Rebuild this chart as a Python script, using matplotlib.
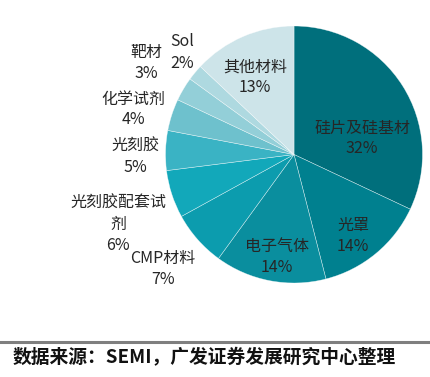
import matplotlib
matplotlib.use('Agg')
import matplotlib.pyplot as plt
from matplotlib.lines import Line2D

plt.rcParams['font.family'] = ['Noto Sans CJK SC', 'DejaVu Sans']

# Datos del gráfico (sentido horario desde arriba)
categorias = ['硅片及硅基材', '光罩', '电子气体', 'CMP材料', '光刻胶配套试\n剂',
              '光刻胶', '化学试剂', '靶材', 'Sol', '其他材料']
porcentajes = [32, 14, 14, 7, 6, 5, 4, 3, 2, 13]
colores = ['#006F7C', '#00808F', '#0A8E9E', '#0C9CAE', '#12A8BA',
           '#3AB3C4', '#6EC1CD', '#93CFD8', '#AED9E0', '#CDE4E9']

# Posición de cada etiqueta en píxeles (x, y de la primera línea)
pos_etiquetas = [(362, 128), (353, 225), (277, 246), (163, 258), (118, 203),
                 (135, 146), (133, 99), (146, 52), (182, 42), (255, 67)]

W, H = 430, 377
fig = plt.figure(figsize=(W / 100, H / 100), dpi=100)

# Ejes del pastel: centro (294, 154), radio 128 px
cx, cy, r = 294, 154.5, 128.5
ax = fig.add_axes([(cx - r) / W, 1 - (cy + r) / H, 2 * r / W, 2 * r / H])
ax.pie(porcentajes, colors=colores, startangle=90, counterclock=False,
       radius=1, wedgeprops=dict(edgecolor=(1, 1, 1, 0.6), linewidth=0.4))
ax.set_xlim(-1, 1)
ax.set_ylim(-1, 1)
ax.set_aspect('auto')
ax.axis('off')

paso = 21
for nombre, pct, (px, py) in zip(categorias, porcentajes, pos_etiquetas):
    lineas = nombre.split('\n') + [f'{pct}%']
    for i, t in enumerate(lineas):
        fig.text(px / W, 1 - (py + i * paso) / H, t, ha='center', va='center',
                 fontsize=11.5, color='#262626')

# Línea y fuente
fig.add_artist(Line2D([0, 1], [1 - 342 / H, 1 - 342 / H], color='#7F7F7F',
                      linewidth=2.2, transform=fig.transFigure))
fig.text(13 / W, 1 - 358 / H, '数据来源：SEMI，广发证券发展研究中心整理',
         ha='left', va='center', fontsize=13.5, fontweight='bold', color='#111111')

fig.savefig('out.png', dpi=100)
